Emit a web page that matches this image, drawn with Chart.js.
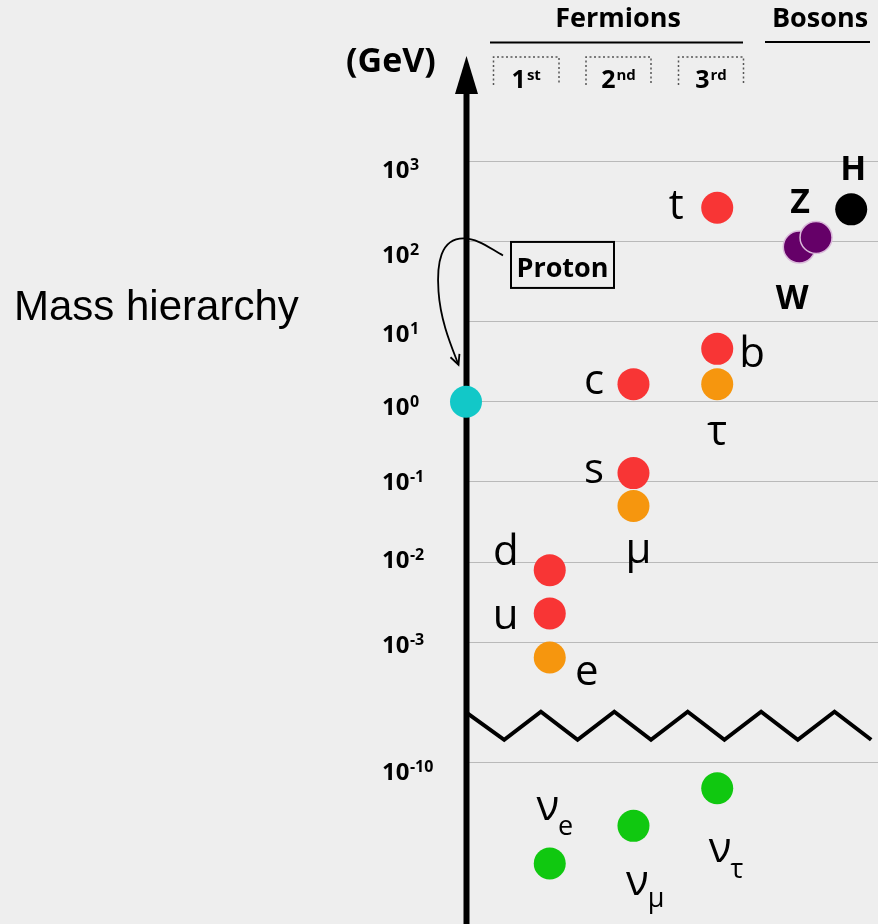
<!DOCTYPE html>
<html>
<head>
<meta charset="utf-8">
<script src="https://cdn.jsdelivr.net/npm/chart.js@4.4.1/dist/chart.umd.min.js"></script>
<style>
  html, body { margin: 0; padding: 0; background: #eeeeee; }
  #wrap { width: 878px; height: 924px; }
</style>
</head>
<body>
<div id="wrap"><canvas id="chart" width="878" height="924"></canvas></div>
<script>
// Masses are log10(m / GeV); x is the generation column (bosons sit to the right of the 3rd).
const quarkNames = ['d', 'u', 'c', 's', 't', 'b'];
const quarkColumn = [1, 1, 2, 2, 3, 3];
const quarkLogMass = [-2.10, -2.64, 0.22, -0.89, 2.42, 0.66];

const leptonNames = ['e', 'μ', 'τ'];
const leptonColumn = [1, 2, 3];
const leptonLogMass = [-3.19, -1.30, 0.22];

const neutrinoNames = ['νe', 'νμ', 'ντ'];
const neutrinoColumn = [1, 2, 3];
const neutrinoLogMass = [-11.26, -10.79, -10.32];

const bosonNames = ['W', 'Z'];
const bosonColumn = [3.98, 4.18];
const bosonLogMass = [1.93, 2.05];

const higgsNames = ['H'];
const higgsColumn = [4.60];
const higgsLogMass = [2.40];

const protonColumn = [0];
const protonLogMass = [0];

const tickExponents = [3, 2, 1, 0, -1, -2, -3, -10];
const generationLabels = [['1', 'st'], ['2', 'nd'], ['3', 'rd']];
const groupLabels = ['Fermions', 'Bosons'];
const unitLabel = '(GeV)';
const sideTitle = 'Mass hierarchy';
const calloutLabel = 'Proton';

// Values far below 10^-3 are pulled up across the axis break so 10^-10 sits 1.5 decades under 10^-3.
const BREAK_AT = -6.5;
const BREAK_SHIFT = 5.5;
const axisValue = e => (e >= BREAK_AT ? e : e + BREAK_SHIFT);

const points = (cols, logs) => cols.map((c, i) => ({ x: c, y: axisValue(logs[i]) }));

// Label placement around each marker (offsets in px from the marker centre).
const labelPlacement = {
  t: [-41, 11], c: [-39.5, 10], s: [-39.5, 10], d: [-44, -5], u: [-44, 16], b: [35, 18],
  e: [37, 27], 'μ': [5, 57], 'τ': [0, 61],
  H: [2, -29], Z: [-16, -24], W: [-7, 62],
  'νe': [-2, -44, 15], 'νμ': [4, 69, 12], 'ντ': [3, 74, 16]
};
const boldLabels = new Set(['H', 'Z', 'W']);
// Baseline drop of each tick label below its grid line.
const tickLabelDrop = [16.7, 21.3, 20, 13, 8.3, 5.6, 11, 17.3];

const RED = '#f83535', ORANGE = '#f6960e', GREEN = '#10c810', CYAN = '#12c8c8',
      PURPLE = '#650068', BLACK = '#000000';

const SANS = '"Open Sans", "Noto Sans", sans-serif';

const decor = {
  id: 'decor',
  beforeDatasetsDraw(chart) {
    const { ctx, chartArea, scales } = chart;
    const ax = chartArea.left + 0.5;
    ctx.save();
    // vertical axis with arrow head
    ctx.fillStyle = '#000';
    ctx.fillRect(ax - 3, 90, 6, chart.height - 90);
    ctx.beginPath();
    ctx.moveTo(ax, chartArea.top);
    ctx.lineTo(ax - 11.5, 94);
    ctx.lineTo(ax + 11.5, 94);
    ctx.closePath();
    ctx.fill();
    // zig-zag marking the axis break
    const yRef = scales.y.getPixelForValue(axisValue(-3));
    const peak = yRef + 69.5, trough = yRef + 97.5, half = 36.7;
    ctx.beginPath();
    ctx.lineWidth = 4;
    ctx.lineJoin = 'miter';
    ctx.strokeStyle = '#000';
    let x = ax + 1, k = 0;
    ctx.moveTo(x, peak + 1.5);
    while (x + half <= chartArea.right - 4) {
      x += half; k++;
      ctx.lineTo(x, k % 2 ? trough : peak);
    }
    ctx.stroke();
    ctx.restore();
  },
  afterDatasetsDraw(chart) {
    const { ctx, chartArea, scales } = chart;
    const ax = chartArea.left + 0.5;
    ctx.save();
    ctx.fillStyle = '#000';
    ctx.textBaseline = 'alphabetic';

    // marker labels
    chart.data.datasets.forEach((ds, di) => {
      const meta = chart.getDatasetMeta(di);
      (ds.names || []).forEach((name, i) => {
        const p = meta.data[i];
        const pl = labelPlacement[name];
        if (!p || !pl) return;
        if (name.length === 2 && name[0] === 'ν') {
          ctx.font = '42px ' + SANS;
          ctx.textAlign = 'center';
          const cx = p.x + pl[0], by = p.y + pl[1];
          ctx.fillText('ν', cx, by);
          const w = ctx.measureText('ν').width;
          ctx.font = '27px ' + SANS;
          ctx.textAlign = 'left';
          ctx.fillText(name[1], cx + w / 2 - 1, by + pl[2]);
        } else {
          ctx.font = boldLabels.has(name) ? 'bold 34px ' + SANS : '42px ' + SANS;
          ctx.textAlign = 'center';
          ctx.fillText(name, p.x + pl[0], p.y + pl[1]);
        }
      });
    });

    // tick labels: 10 with a raised exponent
    ctx.textAlign = 'left';
    tickExponents.forEach((e, i) => {
      const y = scales.y.getPixelForValue(axisValue(e)) + tickLabelDrop[i];
      ctx.font = 'bold 24px ' + SANS;
      ctx.fillText('10', 382, y);
      const w = ctx.measureText('10').width;
      ctx.font = 'bold 16px ' + SANS;
      ctx.fillText(String(e), 382 + w + 0.5, y - 8);
    });

    // unit label
    ctx.font = 'bold 34px ' + SANS;
    ctx.fillText(unitLabel, 346, 72);

    // group headers
    ctx.font = 'bold 27px ' + SANS;
    ctx.textAlign = 'center';
    ctx.fillText(groupLabels[0], 618, 27);
    ctx.fillText(groupLabels[1], 820, 27);
    ctx.fillRect(490, 41.5, 253, 2);
    ctx.fillRect(765, 41, 105, 2);

    // generation boxes (dotted, open at the bottom)
    const boxes = [[493.5, 559], [586, 651], [678.5, 743.5]];
    ctx.strokeStyle = '#555';
    ctx.lineWidth = 1.5;
    ctx.setLineDash([2, 2.5]);
    boxes.forEach(([l, r], i) => {
      ctx.beginPath();
      ctx.moveTo(l, 85); ctx.lineTo(l, 57); ctx.lineTo(r, 57); ctx.lineTo(r, 85);
      ctx.stroke();
      const [num, suf] = generationLabels[i];
      ctx.font = 'bold 25px ' + SANS;
      const w1 = ctx.measureText(num).width;
      ctx.font = 'bold 15px ' + SANS;
      const w2 = ctx.measureText(suf).width;
      const start = (l + r) / 2 - (w1 + w2 + 1) / 2;
      ctx.textAlign = 'left';
      ctx.font = 'bold 25px ' + SANS;
      ctx.fillText(num, start, 88);
      ctx.font = 'bold 15px ' + SANS;
      ctx.fillText(suf, start + w1 + 1, 80);
    });
    ctx.setLineDash([]);

    // side title
    ctx.font = '42px "Liberation Sans", Arial, sans-serif';
    ctx.textAlign = 'left';
    ctx.fillText(sideTitle, 14, 320);

    // proton callout
    const y2 = scales.y.getPixelForValue(axisValue(2));
    const bx = 511, by = y2 + 0.5, bw = 103, bh = 46;
    ctx.lineWidth = 2;
    ctx.strokeStyle = '#000';
    ctx.strokeRect(bx, by, bw, bh);
    ctx.font = 'bold 27px ' + SANS;
    ctx.textAlign = 'center';
    ctx.fillText(calloutLabel, bx + bw / 2, by + 35);

    const y0 = scales.y.getPixelForValue(axisValue(0));
    const tipX = ax - 8, tipY = y0 - 37;
    ctx.lineWidth = 1.8;
    ctx.beginPath();
    ctx.moveTo(503, y2 + 14);
    ctx.bezierCurveTo(490, y2 + 7, 478, y2 - 3, ax - 3, y2 - 3);
    ctx.bezierCurveTo(ax - 26, y2 - 3, ax - 30, y2 + 22, ax - 28, y2 + 50);
    ctx.bezierCurveTo(ax - 26, y2 + 80, ax - 15, y2 + 105, tipX, tipY);
    ctx.stroke();
    const ang = Math.atan2(tipY - (y2 + 105), tipX - (ax - 15));
    ctx.beginPath();
    ctx.moveTo(tipX - 11 * Math.cos(ang - 0.45), tipY - 11 * Math.sin(ang - 0.45));
    ctx.lineTo(tipX, tipY);
    ctx.lineTo(tipX - 11 * Math.cos(ang + 0.45), tipY - 11 * Math.sin(ang + 0.45));
    ctx.stroke();

    ctx.restore();
  }
};

const dot = { pointRadius: 16, pointHoverRadius: 16, borderWidth: 0, clip: false, showLine: false };

new Chart(document.getElementById('chart'), {
  type: 'scatter',
  data: {
    datasets: [
      { ...dot, label: 'Quarks', names: quarkNames, data: points(quarkColumn, quarkLogMass), backgroundColor: RED },
      { ...dot, label: 'Charged leptons', names: leptonNames, data: points(leptonColumn, leptonLogMass), backgroundColor: ORANGE },
      { ...dot, label: 'Neutrinos', names: neutrinoNames, data: points(neutrinoColumn, neutrinoLogMass), backgroundColor: GREEN },
      { ...dot, label: 'W / Z', names: bosonNames, data: points(bosonColumn, bosonLogMass), backgroundColor: PURPLE,
        borderColor: '#d9b8d9', borderWidth: 1.5 },
      { ...dot, label: 'Higgs', names: higgsNames, data: points(higgsColumn, higgsLogMass), backgroundColor: BLACK },
      { ...dot, label: 'Proton', names: [], data: points(protonColumn, protonLogMass), backgroundColor: CYAN }
    ]
  },
  options: {
    responsive: false,
    animation: false,
    events: [],
    layout: { autoPadding: false, padding: { left: 466, top: 56, right: 0, bottom: 0 } },
    plugins: { legend: { display: false }, tooltip: { enabled: false } },
    scales: {
      x: { type: 'linear', min: 0, max: 4.92, display: false },
      y: {
        type: 'linear', min: -6.514, max: 4.313,
        afterBuildTicks: s => { s.ticks = tickExponents.map(e => ({ value: axisValue(e) })); },
        ticks: { display: false },
        grid: { color: '#b9b9b9', lineWidth: 1, drawTicks: false },
        border: { display: false }
      }
    }
  },
  plugins: [decor]
});
</script>
</body>
</html>
